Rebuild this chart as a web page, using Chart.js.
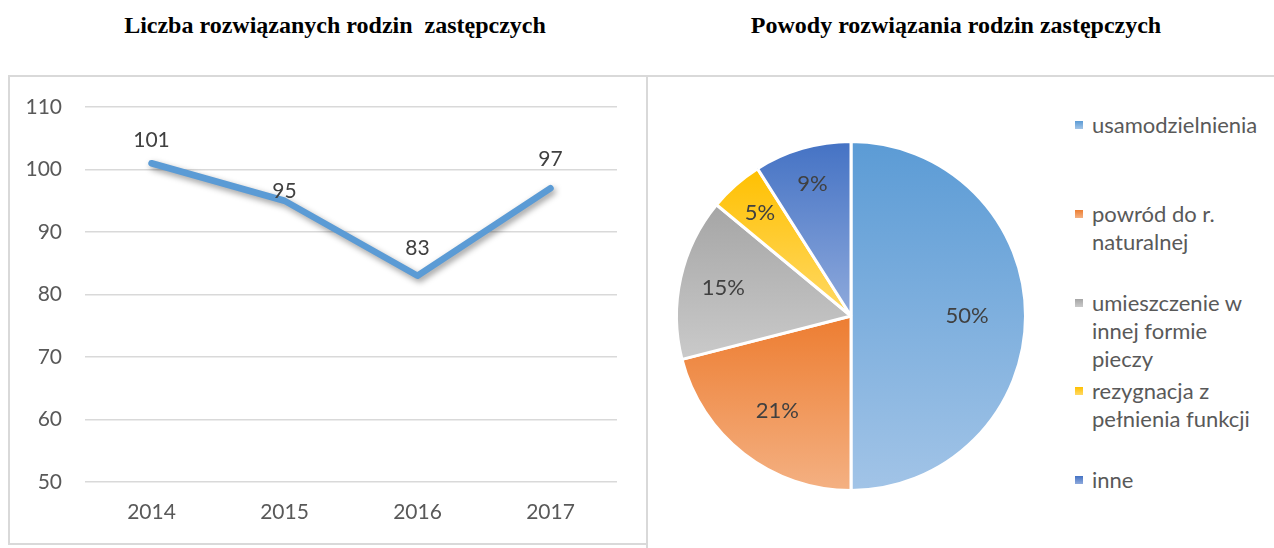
<!DOCTYPE html>
<html>
<head>
<meta charset="utf-8"/>
<title>Rodziny zastępcze</title>
<script src="https://cdn.jsdelivr.net/npm/chart.js@4.4.1/dist/chart.umd.min.js"></script>
<style>
    html, body { margin: 0; padding: 0; background: #fff; }
    body { width: 1274px; height: 548px; position: relative; overflow: hidden; font-family: Lato, "Open Sans", sans-serif; }
    .title { position: absolute; top: 11px; width: 600px; text-align: center; white-space: pre;
             font: bold 24px "Liberation Serif", "Times New Roman", serif; line-height: 28px; color: #000; }
    #titleLeft { left: 35px; }
    #titleRight { left: 656px; }
    .box { position: absolute; box-sizing: border-box; border: 2px solid #d9d9d9; }
    #boxLeft { left: 8px; top: 75px; width: 640px; height: 470px; }
    #boxRight { left: 646px; top: 75px; width: 700px; height: 600px; }
    #lineChart { position: absolute; left: 10px; top: 77px; }
    #pieChart { position: absolute; left: 648px; top: 77px; }
    .legend-item { position: absolute; left: 1075px; width: 190px; }
    .legend-item .swatch { position: absolute; left: 0; top: 10px; width: 8px; height: 8px; }
    .legend-item .text { margin-left: 17px; width: 172px; font-size: 22px; line-height: 28px; color: #595959; }
</style>
</head>
<body>
<div class="title" id="titleLeft">Liczba rozwiązanych rodzin  zastępczych</div>
<div class="title" id="titleRight">Powody rozwiązania rodzin zastępczych</div>
<div class="box" id="boxLeft"></div>
<div class="box" id="boxRight"></div>
<canvas id="lineChart" width="636" height="465"></canvas>
<canvas id="pieChart" width="400" height="460"></canvas>
<div id="legend"></div>

<script>
    // liczba rozwiązanych rodzin w kolejnych latach
    const years = ['2014', '2015', '2016', '2017'];
    const counts = [101, 95, 83, 97];

    // powody rozwiązania (%)
    const reasons = ['usamodzielnienia', 'powród do r. naturalnej', 'umieszczenie w innej formie pieczy',
        'rezygnacja z pełnienia funkcji', 'inne'];
    const shares = [50, 21, 15, 5, 9];

    // y axis ticks
    const yMin = 50, yMax = 110, yStep = 10;

    // slice colours: top and bottom of each gradient
    const topColors = ['#5B9BD5', '#ED7D31', '#A5A5A5', '#FFC000', '#4472C4'];
    const bottomColors = ['#A2C4E7', '#F4B183', '#CACACA', '#FFD966', '#8FAADC'];

    // how far above each point its value label sits
    const labelLift = [23, 10, 28, 29];
    // how far out (share of radius) each percentage label sits
    const labelRadius = [0.665, 0.69, 0.75, 0.79, 0.79];

    const tickFont = {family: 'Lato', size: 21};
    const gray = '#595959';
    const dark = '#404040';

    // soft shadow under the line
    const lineShadow = {
        id: 'lineShadow',
        beforeDatasetDraw(chart) {
            const ctx = chart.ctx;
            ctx.save();
            ctx.shadowColor = 'rgba(0, 0, 0, 0.4)';
            ctx.shadowBlur = 6;
            ctx.shadowOffsetX = 2;
            ctx.shadowOffsetY = 3;
        },
        afterDatasetDraw(chart) {
            chart.ctx.restore();
        }
    };

    // value labels above the points
    const pointLabels = {
        id: 'pointLabels',
        afterDatasetsDraw(chart) {
            const ctx = chart.ctx;
            const meta = chart.getDatasetMeta(0);
            ctx.save();
            ctx.font = '21px Lato';
            ctx.fillStyle = dark;
            ctx.textAlign = 'center';
            ctx.textBaseline = 'middle';
            meta.data.forEach((pt, i) => {
                ctx.fillText(String(counts[i]), pt.x, pt.y - labelLift[i]);
            });
            ctx.restore();
        }
    };

    new Chart(document.getElementById('lineChart'), {
        type: 'line',
        data: {
            labels: years,
            datasets: [{
                data: counts,
                borderColor: '#5B9BD5',
                borderWidth: 6.5,
                borderCapStyle: 'round',
                borderJoinStyle: 'round',
                pointRadius: 0,
                tension: 0
            }]
        },
        options: {
            responsive: false,
            animation: false,
            events: [],
            layout: {padding: {top: 30, right: 29, left: 0, bottom: 0}},
            plugins: {legend: {display: false}, tooltip: {enabled: false}},
            scales: {
                x: {
                    offset: true,
                    grid: {display: false},
                    border: {display: false},
                    ticks: {color: gray, font: tickFont, padding: 10},
                    afterFit(scale) { scale.height = 60; }
                },
                y: {
                    min: yMin,
                    max: yMax,
                    grid: {color: '#d9d9d9', lineWidth: 1.5, drawTicks: false},
                    border: {display: false},
                    ticks: {stepSize: yStep, color: gray, font: tickFont, padding: 23},
                    afterFit(scale) {
                        scale.width = 75;
                        // the tick padding is only meant as a gap to the left of the plot
                        scale.paddingTop = 0;
                        scale.paddingBottom = 0;
                    }
                }
            }
        },
        plugins: [lineShadow, pointLabels]
    });

    // vertical extent of one slice, for its gradient
    function sliceExtent(chart, i) {
        const a = chart.chartArea;
        const cy = (a.top + a.bottom) / 2;
        const r = Math.min(a.width, a.height) / 2;
        const total = shares.reduce((s, v) => s + v, 0);
        let start = -Math.PI / 2;
        for (let k = 0; k < i; k++) start += shares[k] / total * Math.PI * 2;
        const end = start + shares[i] / total * Math.PI * 2;
        const ys = [cy, cy + r * Math.sin(start), cy + r * Math.sin(end)];
        [-Math.PI / 2, Math.PI / 2, Math.PI * 1.5].forEach(t => {
            if (t >= start && t <= end) ys.push(cy + r * Math.sin(t));
        });
        return {top: Math.min(...ys), bottom: Math.max(...ys)};
    }

    function sliceFill(context) {
        const chart = context.chart;
        const i = context.dataIndex;
        if (!chart.chartArea || i === undefined) return topColors[i] || topColors[0];
        const ext = sliceExtent(chart, i);
        const g = chart.ctx.createLinearGradient(0, ext.top, 0, ext.bottom);
        g.addColorStop(0, topColors[i]);
        g.addColorStop(1, bottomColors[i]);
        return g;
    }

    // percentage labels inside the slices
    const sliceLabels = {
        id: 'sliceLabels',
        afterDatasetsDraw(chart) {
            const ctx = chart.ctx;
            const meta = chart.getDatasetMeta(0);
            ctx.save();
            ctx.font = '22px Lato';
            ctx.fillStyle = dark;
            ctx.textAlign = 'center';
            ctx.textBaseline = 'middle';
            meta.data.forEach((arc, i) => {
                const mid = (arc.startAngle + arc.endAngle) / 2;
                const k = labelRadius[i];
                const x = arc.x + Math.cos(mid) * arc.outerRadius * k;
                const y = arc.y + Math.sin(mid) * arc.outerRadius * k;
                ctx.fillText(shares[i] + '%', x, y);
            });
            ctx.restore();
        }
    };

    new Chart(document.getElementById('pieChart'), {
        type: 'pie',
        data: {
            labels: reasons,
            datasets: [{
                data: shares,
                backgroundColor: sliceFill,
                borderColor: '#ffffff',
                borderWidth: 3,
                hoverBorderWidth: 3
            }]
        },
        options: {
            responsive: false,
            animation: false,
            events: [],
            layout: {padding: {left: 27, top: 63, right: 21, bottom: 45}},
            plugins: {legend: {display: false}, tooltip: {enabled: false}}
        },
        plugins: [sliceLabels]
    });

    // legend on the right of the pie
    const legendTop = 111, legendPitch = 88.75;
    const legend = document.getElementById('legend');
    reasons.forEach((name, i) => {
        const item = document.createElement('div');
        item.className = 'legend-item';
        item.style.top = (legendTop + i * legendPitch) + 'px';
        const sw = document.createElement('div');
        sw.className = 'swatch';
        sw.style.background = 'linear-gradient(' + topColors[i] + ', ' + bottomColors[i] + ')';
        const tx = document.createElement('div');
        tx.className = 'text';
        tx.textContent = name;
        item.appendChild(sw);
        item.appendChild(tx);
        legend.appendChild(item);
    });
</script>
</body>
</html>
